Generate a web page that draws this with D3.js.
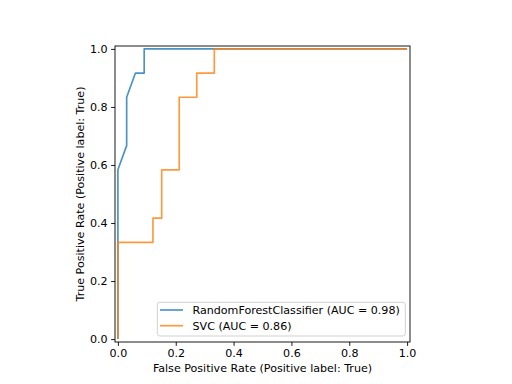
<!DOCTYPE html>
<html><head><meta charset="utf-8">
<script src="https://cdn.jsdelivr.net/npm/d3@7"></script>
<style>body{margin:0;background:#fff}svg{display:block}text{font-family:"DejaVu Sans",sans-serif}</style>
</head><body><svg id="c" width="512" height="384"></svg>
<script>
const rfFpr = [0, 0, 1/33, 1/33, 2/33, 3/33, 3/33, 1];
const rfTpr = [0, 7/12, 8/12, 10/12, 11/12, 11/12, 1, 1];
const svcFpr = [0, 0, 4/33, 4/33, 5/33, 5/33, 7/33, 7/33, 9/33, 9/33, 11/33, 11/33, 1];
const svcTpr = [0, 4/12, 4/12, 5/12, 5/12, 7/12, 7/12, 10/12, 10/12, 11/12, 11/12, 1, 1];
const seriesNames = ["RandomForestClassifier (AUC = 0.98)", "SVC (AUC = 0.86)"];
const seriesColors = ["#1f77b4", "#ff7f0e"];
const ticks = [0, 0.2, 0.4, 0.6, 0.8, 1.0];

const svg = d3.select("#c");
const L = 115, R = 410, T = 46, B = 342;
const x = d3.scaleLinear().domain([-0.01, 1.01]).range([L, R]);
const y = d3.scaleLinear().domain([-0.01, 1.01]).range([B, T]);

const gx = svg.append("g").attr("transform", `translate(0,${B})`)
  .call(d3.axisBottom(x).tickValues(ticks).tickFormat(d3.format(".1f")).tickSize(3.9).tickPadding(3.5));
const gy = svg.append("g").attr("transform", `translate(${L},0)`)
  .call(d3.axisLeft(y).tickValues(ticks).tickFormat(d3.format(".1f")).tickSize(3.9).tickPadding(3.5));
[gx, gy].forEach(g => {
  g.select(".domain").remove();
  g.selectAll("line").attr("stroke", "#000").attr("stroke-width", 0.9);
  g.selectAll("text").attr("font-size", "11.1px").attr("fill", "#000").style("font-family", '"DejaVu Sans",sans-serif');
});

const line = d3.line().x(d => x(d[0])).y(d => y(d[1]));
const series = [d3.zip(rfFpr, rfTpr), d3.zip(svcFpr, svcTpr)];
series.forEach((s, i) => {
  svg.append("path").datum(s).attr("d", line).attr("fill", "none")
    .attr("stroke", seriesColors[i]).attr("stroke-opacity", 0.8).attr("stroke-width", 1.67)
    .attr("stroke-linejoin", "round").attr("stroke-linecap", "butt");
});

svg.append("rect").attr("x", L).attr("y", T).attr("width", R - L).attr("height", B - T)
  .attr("fill", "none").attr("stroke", "#000").attr("stroke-width", 0.9);

svg.append("text").attr("x", (L + R) / 2).attr("y", 372).attr("text-anchor", "middle")
  .attr("font-size", "11.1px").text("False Positive Rate (Positive label: True)");
svg.append("text").attr("transform", `translate(83.5,${(T + B) / 2}) rotate(-90)`).attr("text-anchor", "middle")
  .attr("font-size", "11.1px").text("True Positive Rate (Positive label: True)");

const lg = svg.append("g");
lg.append("rect").attr("x", 157.3).attr("y", 302.3).attr("width", 248).attr("height", 33.7)
  .attr("rx", 2.5).attr("fill", "#fff").attr("fill-opacity", 0.8).attr("stroke", "#ccc").attr("stroke-width", 0.9);
seriesNames.forEach((n, i) => {
  const yy = 310 + i * 15.7;
  lg.append("line").attr("x1", 160).attr("x2", 183).attr("y1", yy).attr("y2", yy)
    .attr("stroke", seriesColors[i]).attr("stroke-opacity", 0.8).attr("stroke-width", 1.67);
  lg.append("text").attr("x", 192.5).attr("y", yy + 4).attr("font-size", "11.1px").text(n);
});
</script></body></html>
